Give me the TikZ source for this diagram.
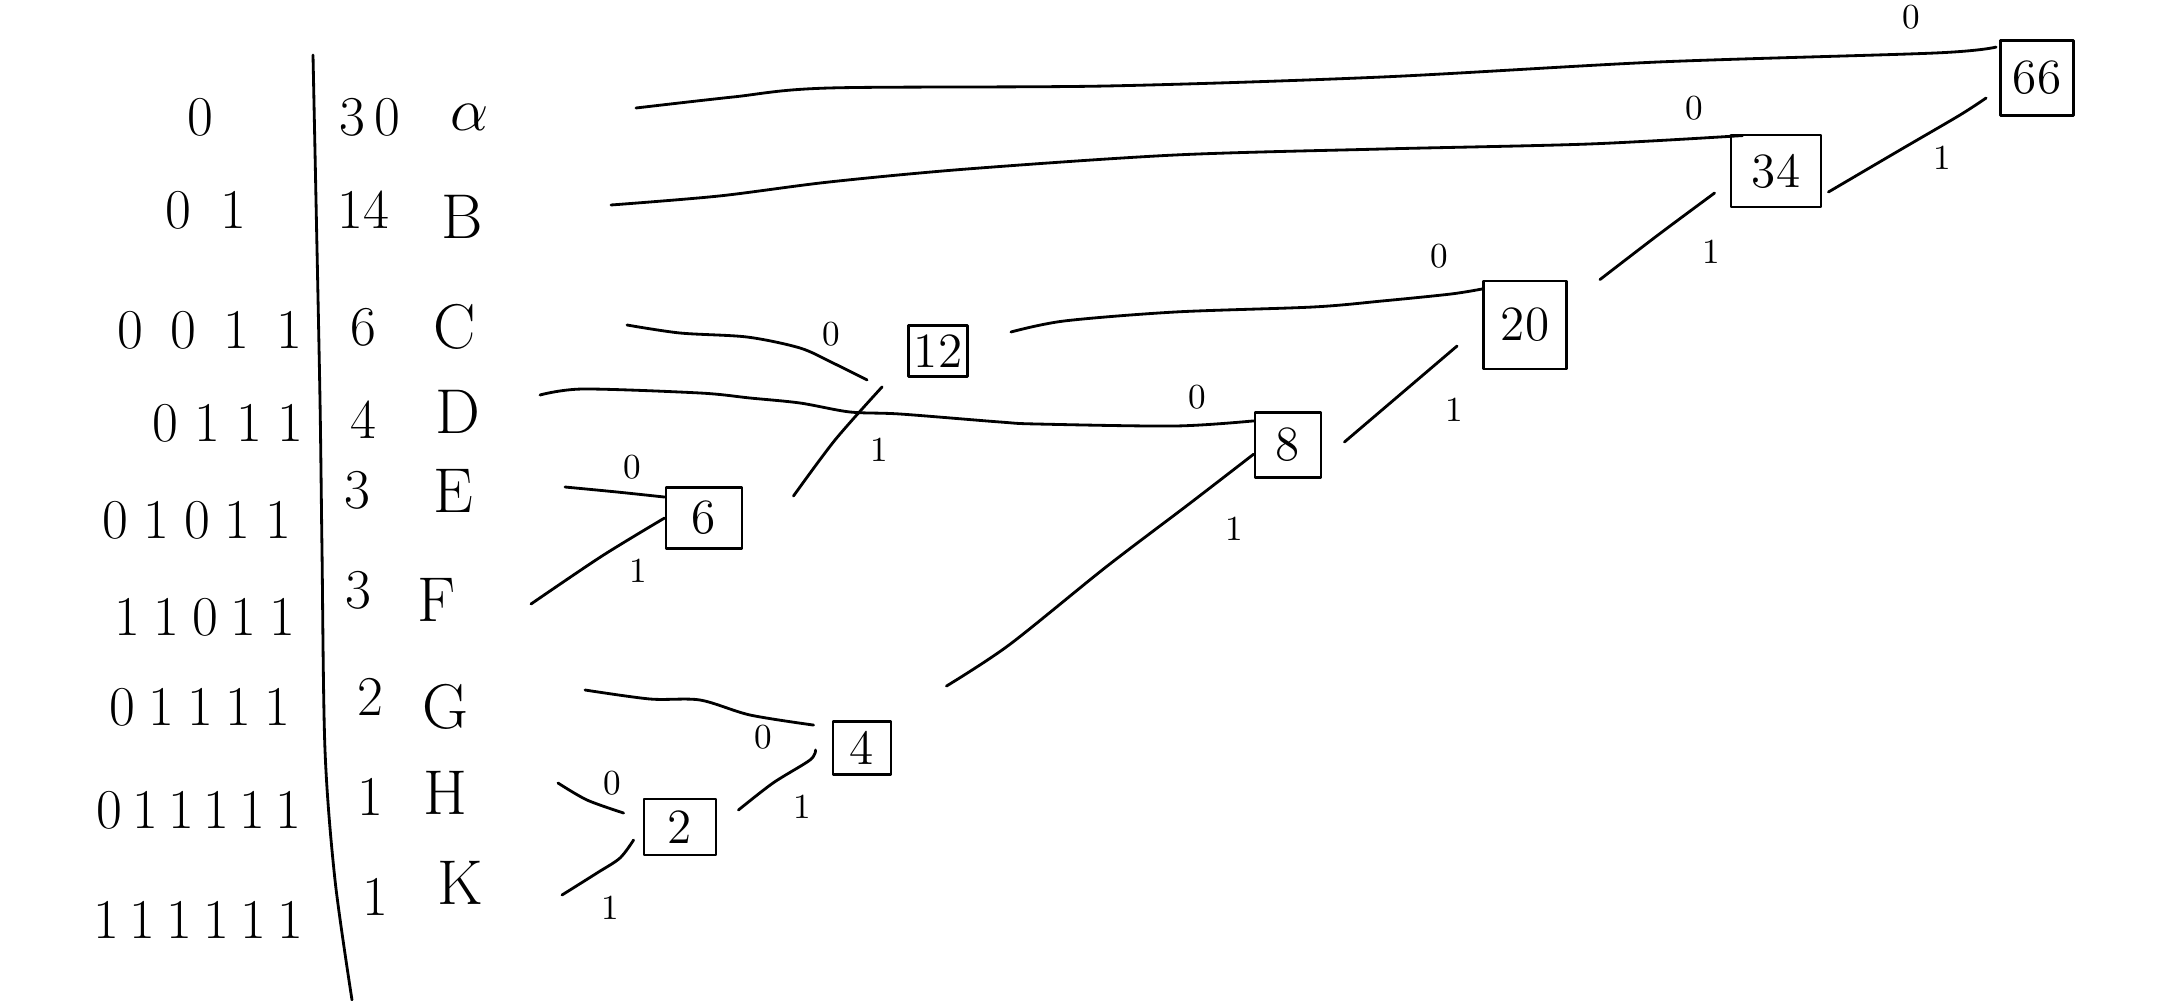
\documentclass[tikz,border=0pt]{standalone}
\begin{document}
\begin{tikzpicture}[x=0.01cm,y=-0.01cm, line width=0.8pt, line cap=round, line join=round,
  box/.style={draw, inner sep=0pt, font=\fontsize{14}{16}\selectfont},
  bit/.style={font=\fontsize{10}{12}\selectfont, inner sep=0pt},
  code/.style={font=\fontsize{16}{19}\selectfont, inner sep=0pt},
  weight/.style={font=\fontsize{16}{19}\selectfont, inner sep=0pt},
  sym/.style={font=\fontsize{18}{21}\selectfont, inner sep=0pt},
  conn/.style={draw}]
\useasboundingbox (0,0) rectangle (2167,1000);

% divider
\draw plot[smooth] coordinates {(313,55) (316,200) (320,400) (322,550) (325,750) (335,880) (352,1000)};

% codes
\node[code] (cA) at (200,117) {0};
\node[code] (cB) at (206,210) {0\hspace{0.30cm}1};
\node[code] (cC) at (210,330) {0\hspace{0.27cm}0\hspace{0.27cm}1\hspace{0.27cm}1};
\node[code] (cD) at (228,423) {0\hspace{0.16cm}1\hspace{0.16cm}1\hspace{0.16cm}1};
\node[code] (cE) at (197,520) {0\hspace{0.15cm}1\hspace{0.15cm}0\hspace{0.15cm}1\hspace{0.15cm}1};
\node[code] (cF) at (205,617) {1\hspace{0.13cm}1\hspace{0.13cm}0\hspace{0.13cm}1\hspace{0.13cm}1};
\node[code] (cG) at (200,707) {0\hspace{0.13cm}1\hspace{0.13cm}1\hspace{0.13cm}1\hspace{0.13cm}1};
\node[code] (cH) at (199,810) {0\hspace{0.10cm}1\hspace{0.10cm}1\hspace{0.10cm}1\hspace{0.10cm}1\hspace{0.10cm}1};
\node[code] (cK) at (198,920) {1\hspace{0.11cm}1\hspace{0.11cm}1\hspace{0.11cm}1\hspace{0.11cm}1\hspace{0.11cm}1};

% weights
\node[weight] (wA) at (370,117) {3\hspace{0.1cm}0};
\node[weight] (wB) at (363,210) {14};
\node[weight] (wC) at (363,327) {6};
\node[weight] (wD) at (363,420) {4};
\node[weight] (wE) at (357,490) {3};
\node[weight] (wF) at (358,590) {3};
\node[weight] (wG) at (370,697) {2};
\node[weight] (wH) at (370,797) {1};
\node[weight] (wK) at (375,897) {1};

% symbols
\node[sym] (yA) at (470,117) {$\alpha$};
\node[sym] (yB) at (462,217) {B};
\node[sym] (yC) at (455,327) {C};
\node[sym] (yD) at (458,412) {D};
\node[sym] (yE) at (453,491) {E};
\node[sym] (yF) at (437,600) {F};
\node[sym] (yG) at (445,707) {G};
\node[sym] (yH) at (445,793) {H};
\node[sym] (yK) at (460,883) {K};

% internal nodes
\node[box, minimum width=0.73cm, minimum height=0.75cm] (n66) at (2037,78) {66};
\node[box, minimum width=0.90cm, minimum height=0.72cm] (n34) at (1776,171) {34};
\node[box, minimum width=0.83cm, minimum height=0.88cm] (n20) at (1525,325) {20};
\node[box, minimum width=0.66cm, minimum height=0.65cm] (n8)  at (1288,445) {8};
\node[box, minimum width=0.59cm, minimum height=0.51cm] (n12) at (938,351) {12};
\node[box, minimum width=0.76cm, minimum height=0.61cm] (n6)  at (704,518) {6};
\node[box, minimum width=0.58cm, minimum height=0.53cm] (n4)  at (862,748) {4};
\node[box, minimum width=0.72cm, minimum height=0.56cm] (n2)  at (680,827) {2};

% free ends of leaf connectors
\coordinate (sA) at (636,108);
\coordinate (sB) at (611,205);
\coordinate (sC) at (627,325);
\coordinate (sD) at (540,395);
\coordinate (sE) at (565,487);
\coordinate (sF) at (531,604);
\coordinate (sG) at (585,690);
\coordinate (sH) at (558,783);
\coordinate (sK) at (562,895);

% connectors
\draw plot[smooth] coordinates {(sA) (733,97) (829,88) (1106,86) (1382,77) (1658,62) (1935,53) ([shift={(-3,8)}]n66.north west)};
\draw plot[smooth] coordinates {(sB) (719,196) (829,182) (967,169) (1175,155) (1382,149) (1589,144) ([shift={(13,2)}]n34.north west)};
\draw plot[smooth] coordinates {(sC) (680,333) (747,337) (800,348) (833,363) ([shift={(-40,2)}]n12.south west)};
\draw plot[smooth] coordinates {([shift={(50,10)}]n6.north east) (835,440) ([shift={(-25,9)}]n12.south west)};
\draw plot[smooth] coordinates {(sD) (583,389) (700,393) (750,398) (800,403) (850,412) (900,414) (1000,422) (1037,424) (1175,426) (n8.145)};
\draw plot[smooth] coordinates {(sE) (617,492) (n6.152)};
\draw plot[smooth] coordinates {(sF) (602,556) (n6.180)};
\draw plot[smooth] coordinates {([shift={(42,-19)}]n12.east) (1064,321) (1175,312) (1313,307) (1382,301) (1451,294) (n20.140)};
\draw ([shift={(22,-3)}]n8.east) -- ([shift={(-25,21)}]n20.west);
\draw plot[smooth] coordinates {([shift={(32,0)}]n20.north east) (1658,235) ([shift={(-15,22)}]n34.west)};
\draw plot[smooth] coordinates {([shift={(6,21)}]n34.east) (1900,150) (1960,115) ([shift={(-13,20)}]n66.west)};
\draw plot[smooth] coordinates {([shift={(54,-34)}]n4.north east) (1009,645) (1106,567) (1189,504) (n8.195)};
\draw plot[smooth] coordinates {(sG) (650,699) (700,700) (750,715) ([shift={(-18,5)}]n4.north west)};
\draw plot[smooth] coordinates {([shift={(21,-17)}]n2.east) (773,783) (810,760) ([shift={(-16,2)}]n4.west)};
\draw plot[smooth] coordinates {(sH) (587,800) ([shift={(-19,-14)}]n2.west)};
\draw plot[smooth] coordinates {(sK) (597,873) (620,858) ([shift={(-9,13)}]n2.west)};

% edge labels
\node[bit] (l1) at (1911,17) {0};
\node[bit] (l2) at (1694,108) {0};
\node[bit] (l3) at (831,334) {0};
\node[bit] (l4) at (879,450) {1};
\node[bit] (l5) at (1197,397) {0};
\node[bit] (l6) at (632,467) {0};
\node[bit] (l7) at (638,571) {1};
\node[bit] (l8) at (1439,256) {0};
\node[bit] (l9) at (1454,410) {1};
\node[bit] (l10) at (1711,252) {1};
\node[bit] (l11) at (1942,158) {1};
\node[bit] (l12) at (1234,529) {1};
\node[bit] (l13) at (763,737) {0};
\node[bit] (l14) at (802,807) {1};
\node[bit] (l15) at (612,783) {0};
\node[bit] (l16) at (610,908) {1};
\end{tikzpicture}
\end{document}
